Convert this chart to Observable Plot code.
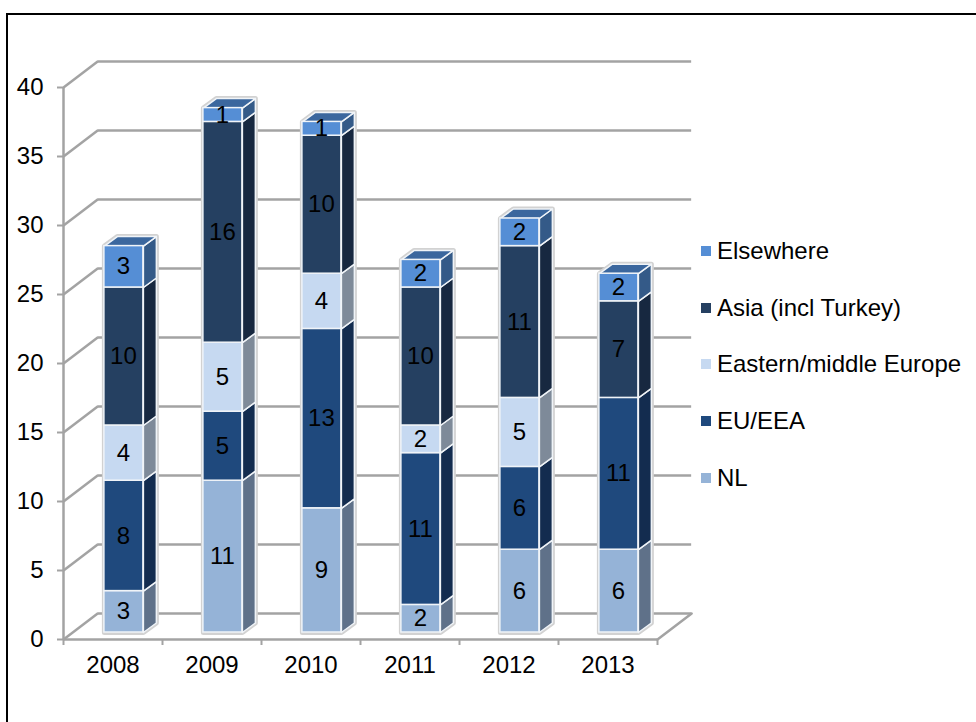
<!DOCTYPE html>
<html><head><meta charset="utf-8">
<script src="https://cdn.jsdelivr.net/npm/d3@7"></script>
<script src="https://cdn.jsdelivr.net/npm/@observablehq/plot@0.6"></script>
<style>
html,body{margin:0;padding:0;background:#fff;}
#wrap{position:relative;width:976px;height:722px;overflow:hidden;font-family:"Liberation Sans",Arial,sans-serif;color:#000;}
#frame{position:absolute;left:6px;top:13px;width:1000px;height:750px;border:2px solid #000;box-sizing:border-box;}
#legend{position:absolute;left:701px;top:222.5px;}
.item{height:56.75px;display:flex;align-items:center;font-size:24px;white-space:nowrap;}
.sw{width:10px;height:10px;margin-right:6px;flex:none;}
svg{position:absolute;left:0;top:0;}
</style></head><body>
<div id="wrap"><div id="frame"></div><div id="chart"></div><div id="legend"></div></div>
<script>
const years = [2008, 2009, 2010, 2011, 2012, 2013];
const seriesNames = ["NL", "EU/EEA", "Eastern/middle Europe", "Asia (incl Turkey)", "Elsewhere"];
const NL = [3, 11, 9, 2, 6, 6];
const EU = [8, 5, 13, 11, 6, 11];
const Eastern = [4, 5, 4, 2, 5, 0];
const Asia = [10, 16, 10, 10, 11, 7];
const Elsewhere = [3, 1, 1, 2, 2, 2];
const seriesValues = [NL, EU, Eastern, Asia, Elsewhere];
const frontColors = ["#95b3d7", "#1f497d", "#c6d9f1", "#254061", "#558ed5"];
const sideColors = ["#5f7189", "#132c4f", "#7e8a99", "#172840", "#345a88"];
const topColor = "#3b679e";
const yTicks = [0, 5, 10, 15, 20, 25, 30, 35, 40];

// projection of the 3-D box into axis units
const wallDx = 0.345, wallDy = 1.88;   // depth of the back wall
const barInset = 0.11, barLift = 0.507; // bar offset from the front plane
const barWidth = 0.394, barDx = 0.131, barDy = 0.69; // bar width and depth

const segments = [];
years.forEach((year, i) => {
  let base = 0;
  seriesValues.forEach((vals, s) => {
    const v = vals[i];
    if (v > 0) {
      segments.push({id: `${i}-${s}`, i, s, v, y0: base + barLift, y1: base + v + barLift,
        x0: i + 0.5 - barWidth / 2 + barInset, x1: i + 0.5 + barWidth / 2 + barInset});
    }
    base += v;
  });
});
const bars = years.map((year, i) => {
  const total = seriesValues.reduce((a, vals) => a + vals[i], 0);
  return {i, total: total + barLift, x0: i + 0.5 - barWidth / 2 + barInset, x1: i + 0.5 + barWidth / 2 + barInset, y0: barLift};
});
const sidePts = segments.flatMap(d => [
  {id: d.id, x: d.x1, y: d.y0, f: sideColors[d.s]},
  {id: d.id, x: d.x1 + barDx, y: d.y0 + barDy, f: sideColors[d.s]},
  {id: d.id, x: d.x1 + barDx, y: d.y1 + barDy, f: sideColors[d.s]},
  {id: d.id, x: d.x1, y: d.y1, f: sideColors[d.s]},
  {id: d.id, x: d.x1, y: d.y0, f: sideColors[d.s]}
]);
const topPts = bars.flatMap(b => [
  {id: b.i, x: b.x0, y: b.total},
  {id: b.i, x: b.x0 + barDx, y: b.total + barDy},
  {id: b.i, x: b.x1 + barDx, y: b.total + barDy},
  {id: b.i, x: b.x1, y: b.total},
  {id: b.i, x: b.x0, y: b.total}
]);
const outlinePts = bars.flatMap(b => [
  {id: b.i, x: b.x0, y: b.y0},
  {id: b.i, x: b.x0, y: b.total},
  {id: b.i, x: b.x0 + barDx, y: b.total + barDy},
  {id: b.i, x: b.x1 + barDx, y: b.total + barDy},
  {id: b.i, x: b.x1 + barDx, y: b.y0 + barDy},
  {id: b.i, x: b.x1, y: b.y0},
  {id: b.i, x: b.x0, y: b.y0}
]);
const n = years.length;
const gridColor = "#a3a3a3";
const floorEdge = [{x: n, y: 0}, {x: n + wallDx, y: wallDy}];

const chart = Plot.plot({
  width: 976, height: 722,
  marginLeft: 63, marginRight: 319, marginTop: 87, marginBottom: 83,
  style: {background: "transparent", fontFamily: "'Liberation Sans',Arial,sans-serif", color: "#000", overflow: "visible"},
  x: {domain: [0, n], axis: null},
  y: {domain: [0, 40], axis: null},
  marks: [
    // back wall grid and left wall diagonals
    Plot.ruleY(yTicks, {y: d => d + wallDy, x1: wallDx, x2: n + wallDx, stroke: gridColor, strokeWidth: 2.5}),
    Plot.link(yTicks, {x1: 0, y1: d => d, x2: wallDx, y2: d => d + wallDy, stroke: gridColor, strokeWidth: 2.5}),
    Plot.line(floorEdge, {x: "x", y: "y", stroke: gridColor, strokeWidth: 2.5}),
    // axes
    Plot.ruleX([0], {y1: 0, y2: 40, stroke: gridColor, strokeWidth: 2.5}),
    Plot.ruleY([0], {x1: 0, x2: n, stroke: gridColor, strokeWidth: 2.5}),
    Plot.axisY({ticks: yTicks, tickSize: 6, tickPadding: 14, fontSize: 24, stroke: gridColor, strokeWidth: 2, label: null, color: "#000"}),
    Plot.axisX({ticks: d3.range(n + 1), tickSize: 6, tickFormat: () => "", stroke: gridColor, strokeWidth: 2, label: null}),
    Plot.axisX({ticks: years.map((y, i) => i + 0.5), tickSize: 0, tickPadding: 16, fontSize: 24, tickFormat: (d) => String(years[Math.floor(d)]), label: null, color: "#000"}),
    // bar halo, sides, tops, fronts
    Plot.line(outlinePts, {x: "x", y: "y", z: "id", stroke: "#d2d2d2", strokeWidth: 5, fill: "#d2d2d2", strokeLinejoin: "round"}),
    Plot.line(sidePts, {x: "x", y: "y", z: "id", fill: d => d.f, stroke: "#f0f4f8", strokeWidth: 1.5}),
    Plot.line(topPts, {x: "x", y: "y", z: "id", fill: topColor, stroke: "#f0f4f8", strokeWidth: 1.5}),
    Plot.rect(segments, {x1: "x0", x2: "x1", y1: "y0", y2: "y1", fill: d => frontColors[d.s], stroke: "#f0f4f8", strokeWidth: 1.5}),
    Plot.text(segments, {x: d => (d.x0 + d.x1) / 2, y: d => (d.y0 + d.y1) / 2, text: "v", fontSize: 24, fill: "#000", dx: -0.5})
  ],
  color: {type: "identity"}
});
document.getElementById("chart").append(chart);

const legend = document.getElementById("legend");
[...seriesNames.keys()].reverse().forEach(s => {
  const row = document.createElement("div");
  row.className = "item";
  const sw = document.createElement("span");
  sw.className = "sw";
  sw.style.background = frontColors[s];
  row.append(sw, document.createTextNode(seriesNames[s]));
  legend.append(row);
});
</script></body></html>
